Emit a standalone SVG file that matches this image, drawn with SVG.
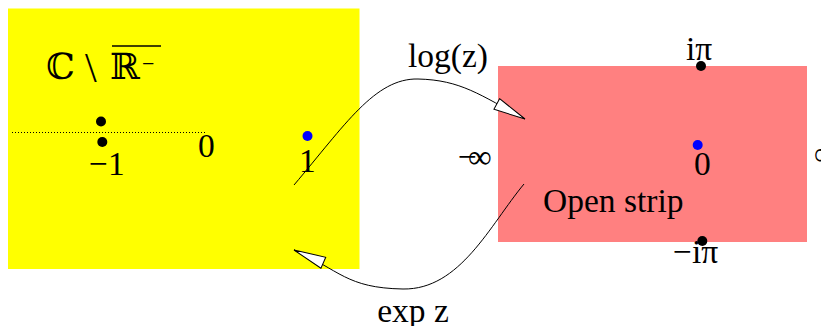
<svg xmlns="http://www.w3.org/2000/svg" width="821" height="326" viewBox="0 0 821 326">
<style>
text{font-family:"Liberation Serif","DejaVu Serif",serif;font-size:33.5px;fill:#000}
.bb{font-family:"DejaVu Serif","Liberation Serif",serif;font-size:36px}
.dot{fill:#000}
.bdot{fill:#0000ff}
.conn{fill:none;stroke:#000;stroke-width:1}
</style>
<defs>
<marker id="ah" markerUnits="userSpaceOnUse" viewBox="0 0 34 14" refX="33" refY="7" markerWidth="34" markerHeight="14" orient="auto">
<path d="M1,1 L33,7 L1,13 Z" fill="#fff" stroke="#000" stroke-width="1"/>
</marker>
</defs>
<g id="plane">
<rect x="8" y="8.5" width="351.5" height="260.5" fill="#ffff00"/>
<text class="bb" x="46" y="79">ℂ</text>
<text x="85" y="82" style="font-size:42px">\</text>
<text class="bb" x="110" y="79">ℝ</text>
<text x="142" y="71" style="font-size:22px">−</text>
<line x1="112" y1="46" x2="161" y2="46" stroke="#000" stroke-width="1.5"/>
<line x1="12" y1="132.5" x2="205" y2="132.5" stroke="#000" stroke-width="1" stroke-dasharray="1,2"/>
<circle class="dot" cx="101" cy="121.5" r="5"/>
<circle class="dot" cx="102.3" cy="142" r="5"/>
<text x="89" y="175">−1</text>
<text x="198" y="157">0</text>
<circle class="bdot" cx="307.5" cy="136" r="5"/>
<text x="299" y="172">1</text>
</g>
<g id="strip">
<rect x="498" y="66" width="309" height="176" fill="#ff8080"/>
<text x="686" y="60">iπ</text>
<circle class="dot" cx="701" cy="66" r="5"/>
<circle class="dot" cx="702.3" cy="241" r="5"/>
<text x="673" y="263">−iπ</text>
<circle class="bdot" cx="697.7" cy="145" r="5"/>
<text x="694" y="175">0</text>
<text x="543" y="212">Open strip</text>
<text x="458" y="168">−<tspan dx="-9">∞</tspan></text>
<text x="814" y="165">∞</text>
</g>
<g id="connectors">
<path class="conn" d="M294,185 C345,125 375,78 418,79 S480,95 525,119" marker-end="url(#ah)"/>
<text x="448" y="67" text-anchor="middle">log(z)</text>
<path class="conn" d="M524,184 C490,225 460,290 403,289 S340,270 294,250" marker-end="url(#ah)"/>
<text x="413" y="322" text-anchor="middle">exp z</text>
</g>
</svg>
